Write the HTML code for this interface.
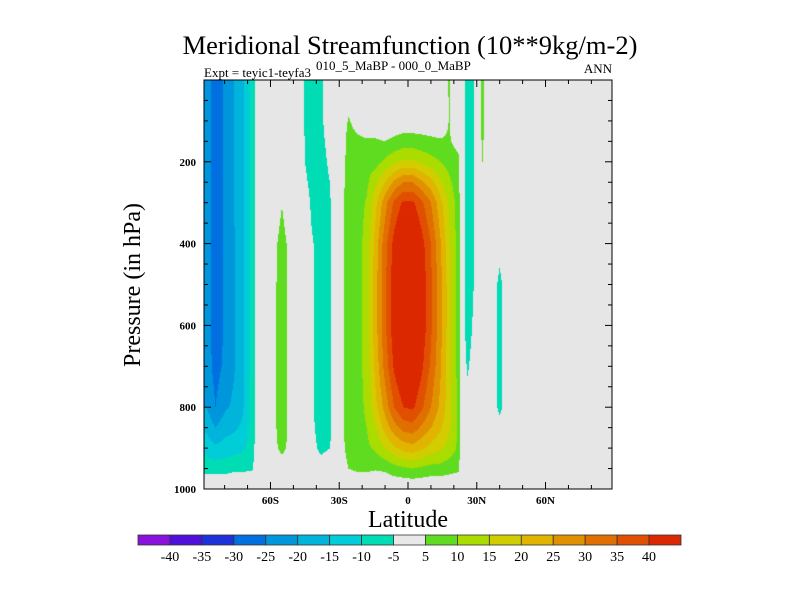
<!DOCTYPE html>
<html><head><meta charset="utf-8">
<style>
html,body{margin:0;padding:0;background:#fff;}
#wrap{position:relative;width:800px;height:600px;overflow:hidden;font-family:"Liberation Serif",serif;}
#plot{position:absolute;left:204px;top:80px;}
svg{position:absolute;left:0;top:0;}
</style></head>
<body>
<div id="wrap">
<canvas id="plot" width="408" height="409"></canvas>
<svg id="ov" width="800" height="600"></svg>
</div>
<script>
// ---- data ----
const levels = [0,100,150,200,250,300,400,500,600,700,800,850,900,950,1000];
const lats = [-89,-88,-84,-80,-76,-72,-68,-65,-62,-60,-58,-55,-52,-48,-45,-42,-38,-34,-30,-26,-22,-18,-14,-10,-6,-2,2,6,10,14,18,22,23.5,26,28.5,30,32.5,35,37.5,40,42.5,45,89];
const psi = [
 [-22,-22,-22,-22,-22,-22,-22,-22,-22,-22,-20,-16,-12,-7,0],
 [-22,-22,-22,-22,-22,-22,-22,-22,-22,-22,-20,-16,-12,-7,0],
 [-28,-28,-28,-28,-28,-28,-28,-28,-28,-27,-25,-20,-14,-7,0],
 [-24.5,-24.5,-24.5,-24.5,-24.5,-24.5,-24.5,-24.5,-24.5,-24,-21,-17,-13,-7,0],
 [-20,-20,-20,-20,-20,-20,-20.5,-20.5,-20.5,-20.5,-19,-16,-12,-6,0],
 [-16.5,-16.5,-16.5,-16.5,-16.5,-16.5,-16.5,-16.5,-16.5,-16.5,-15.5,-14,-11,-6,0],
 [-7.5,-7.5,-7.5,-7.5,-7.5,-7.5,-7.5,-7.5,-7.5,-7.5,-7.5,-7.5,-7,-5.5,0],
 [-1,-1,-1,-1,-1,-1,-1,-1,-1,-1,-1,-1,-1,-1,0],
 [0,0,0,0,0,0,0,0,0,0,0,0,0,0,0],
 [0,0,0,0,0,0,0,0,0,0,0,0,0,0,0],
 [0,0,0,0,0,2,4,4.5,4.5,4.5,4.5,4.5,4,1,0],
 [0,0,0,0,2,4.8,7,7,7,7,7,7,6.5,2,0],
 [0,0,0,0,0,2,4,4.5,4.5,4.5,4.5,4.5,4,1,0],
 [0,0,0,0,0,0,0,0,0,0,0,0,0,0,0],
 [-5.5,-5.5,-5.2,-5,-4,-2,0,0,0,0,0,0,0,0,0],
 [-7,-7,-7,-7,-6.5,-6,-4.5,-4.5,-4.5,-4.5,-4.5,-4,-3,0,0],
 [-6,-6,-6.5,-7,-7,-7,-7,-7,-7,-7,-7,-7,-6.5,-2,0],
 [-2,-2,-3,-4,-5,-5.5,-6,-6,-6,-6,-6,-6,-5,-1,0],
 [0,0,0,1,2,3,3,3,3,3,3,3,2,1,0],
 [0,5.5,7,7,7,7,7,7,7,7,7,7,7,5,0],
 [0,3,6,8,8,8,8,8,8,8,8,8,8,6,0],
 [0,2,5.5,8,9,10.5,12,12.5,12.5,12,11,10,9,6,0],
 [0,2,5.5,8,14,19,22.5,23.5,23.5,22,19,15,11,5.5,0],
 [0,1.5,5,11,20,28,33,34,34,32,27,22,15,6,0],
 [0,2,6,14,26,36,42,43.5,43.5,41,35,28,19,8,0],
 [0,2,7,16,30,41,48,50,50,47,40,32,22,9,0],
 [0,2,7,16,30,41,48,50,50,47,41,33,23,10,0],
 [0,2,6.5,14,26,36,42,43.5,43.5,41,36,29,21,9,0],
 [0,2,6,12,22,30,35,36,36,34,30,25,18,8,0],
 [0,2,5.5,10,16,22,26,27,27,26,24,21,16,8,0],
 [5.5,5.2,5.5,8,11,14,16,17,17,17,17,16,13,7,0],
 [0,0,3,6.5,7,7.5,7.5,8,8,8,8.5,9,9,6,0],
 [0,0,0,0,0,0,0,0,0,0,0,0,0,0,0],
 [-10,-10,-10,-10,-10,-10,-10,-10,-9,-6,-2,0,0,0,0],
 [-5.5,-5.5,-5.5,-5.5,-5.5,-5.5,-5.5,-5.5,-4,-2,0,0,0,0,0],
 [0,0,0,0,0,0,0,0,0,0,0,0,0,0,0],
 [7,7,6,5,0,0,0,0,0,0,0,0,0,0,0],
 [0,0,0,0,0,0,0,0,0,0,0,0,0,0,0],
 [0,0,0,0,0,0,0,-3,-3,-3,-3,-1,0,0,0],
 [0,0,0,0,0,0,-3,-6.5,-6.5,-6.5,-6.5,-3,0,0,0],
 [0,0,0,0,0,0,0,-3,-3,-3,-3,-1,0,0,0],
 [0,0,0,0,0,0,0,0,0,0,0,0,0,0,0],
 [0,0,0,0,0,0,0,0,0,0,0,0,0,0,0]
];
const thresholds = [-40,-35,-30,-25,-20,-15,-10,-5,5,10,15,20,25,30,35,40];
const colors = ["#8a12dc","#5010dc","#1e32dc","#0070e0","#0096dc","#00b4dc","#00cdd7","#00dcb4","#e8e8e8","#60dc20","#aadc00","#d2cd00","#e1b400","#e19100","#e16e00","#e15000","#dc2800"];
const latTicks = [-60,-30,0,30,60];
const latLabels = ["60S","30S","0","30N","60N"];
const pTicks = [200,400,600,800,1000];

// ---- axes ----
const X0=204, X1=612, Y0=80, Y1=489, LATMIN=-89, LATMAX=89;
const xOf = lat => X0 + (lat-LATMIN)/(LATMAX-LATMIN)*(X1-X0);
const yOf = p => Y0 + p/1000*(Y1-Y0);

function interp(lat,p){
  let i=0; while(i<lats.length-2 && lats[i+1]<lat) i++;
  let j=0; while(j<levels.length-2 && levels[j+1]<p) j++;
  const tx=Math.min(1,Math.max(0,(lat-lats[i])/(lats[i+1]-lats[i])));
  const ty=Math.min(1,Math.max(0,(p-levels[j])/(levels[j+1]-levels[j])));
  const a=psi[i][j], b=psi[i+1][j], c=psi[i][j+1], d=psi[i+1][j+1];
  return a*(1-tx)*(1-ty)+b*tx*(1-ty)+c*(1-tx)*ty+d*tx*ty;
}
function hex(c){return [parseInt(c.substr(1,2),16),parseInt(c.substr(3,2),16),parseInt(c.substr(5,2),16)];}
const rgb = colors.map(hex);
const cv=document.getElementById('plot'), ctx=cv.getContext('2d');
const img=ctx.createImageData(408,409);
for(let py=0;py<409;py++){
  const p=(py+0.5)/409*1000;
  for(let px=0;px<408;px++){
    const lat=LATMIN+(px+0.5)/408*(LATMAX-LATMIN);
    const v=interp(lat,p);
    let k=0; while(k<thresholds.length && v>=thresholds[k]) k++;
    let c = (k===8)? [230,230,230] : rgb[k];
    const o=(py*408+px)*4; img.data[o]=c[0];img.data[o+1]=c[1];img.data[o+2]=c[2];img.data[o+3]=255;
  }
}
ctx.putImageData(img,0,0);

const NS="http://www.w3.org/2000/svg";
const svg=document.getElementById('ov');
function mk(tag,attrs,parent){const e=document.createElementNS(NS,tag);for(const k in attrs)e.setAttribute(k,attrs[k]);(parent||svg).appendChild(e);return e;}
function txt(s,attrs){const e=mk('text',attrs);e.textContent=s;return e;}

let fr=mk('rect',{x:X0,y:Y0,width:X1-X0,height:Y1-Y0,fill:'none',stroke:'#000','stroke-width':1});



for(let l=-80;l<=80;l+=10){
  const x=xOf(l), maj=(l%30===0);
  const len=maj?7:4;
  const t1=mk('line',{x1:x,x2:x,y1:Y1,y2:Y1-len,stroke:'#000'});
  
  
  const t2=mk('line',{x1:x,x2:x,y1:Y0,y2:Y0+len,stroke:'#000'});
  
  
}
latTicks.forEach((l,i)=>{
  const t=txt(latLabels[i],{x:xOf(l),y:504,'text-anchor':'middle','font-size':11,'font-weight':'bold'});
  
  
});
for(let p=50;p<1000;p+=50){
  const y=yOf(p), maj=(p%200===0), len=maj?7:4;
  const a=mk('line',{x1:X0,x2:X0+len,y1:y,y2:y,stroke:'#000'});
  
  
  const b=mk('line',{x1:X1,x2:X1-len,y1:y,y2:y,stroke:'#000'});
  
  
}
pTicks.forEach(p=>{
  const t=txt(String(p),{x:196,y:yOf(p)+4,'text-anchor':'end','font-size':11,'font-weight':'bold'});
  
  
});

let e;
e=txt('Meridional Streamfunction (10**9kg/m-2)',{x:410,y:54,'text-anchor':'middle','font-size':26.5});


e=txt('Expt = teyic1-teyfa3',{x:204,y:77,'font-size':13});


e=txt('010_5_MaBP - 000_0_MaBP',{x:316,y:70,'font-size':13});


e=txt('ANN',{x:612,y:73,'text-anchor':'end','font-size':13});


e=txt('Latitude',{x:408,y:527,'text-anchor':'middle','font-size':24});


e=txt('Pressure (in hPa)',{x:0,y:0,'text-anchor':'middle','font-size':24,transform:'translate(140,285) rotate(-90)'});



const CB0=138, CB1=681, CBY=535, CBH=10, bw=(CB1-CB0)/colors.length;
colors.forEach((c,i)=>{
  const r=mk('rect',{x:CB0+i*bw,y:CBY,width:bw,height:CBH,fill:c,stroke:'#333','stroke-width':0.8});
  
  
});
thresholds.forEach((v,i)=>{
  const t=txt(String(v),{x:CB0+(i+1)*bw,y:561,'text-anchor':'middle','font-size':14});
  
  
});
</script>
</body></html>
